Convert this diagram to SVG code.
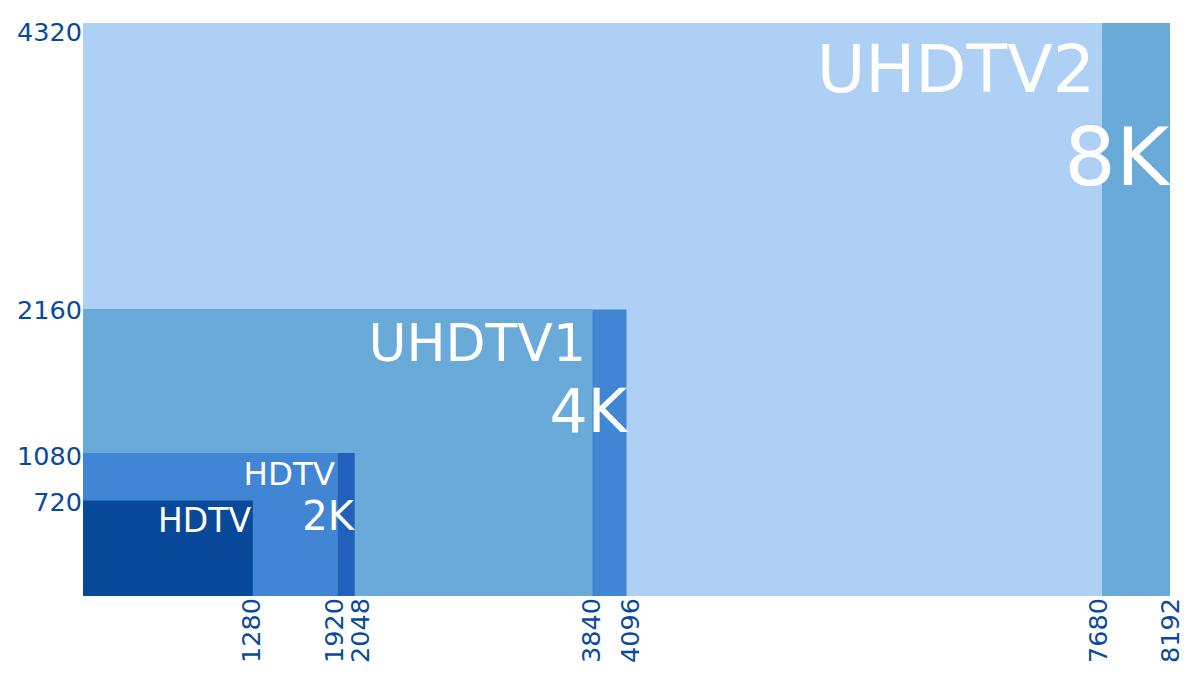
<svg xmlns="http://www.w3.org/2000/svg" width="1200" height="685" viewBox="0 0 1200 685">
<style>
.lbl{font-family:"DejaVu Sans","Liberation Sans",sans-serif;fill:#ffffff;text-anchor:end}
.ax{font-family:"DejaVu Sans","Liberation Sans",sans-serif;fill:#0a4a9c;font-size:25.5px;text-anchor:end}
</style>
<rect width="1200" height="685" fill="#ffffff"/>
<g id="res-8k">
<rect x="83" y="23" width="1087" height="573" fill="#6aaad9"/>
<rect x="83" y="23" width="1019" height="573" fill="#aed0f5"/>
<text class="lbl" x="1095" y="92" font-size="66.5">UHDTV2</text>
<text class="lbl" x="1169" y="185" font-size="81">8K</text>
</g>
<g id="res-4k">
<rect x="83" y="309.5" width="543.5" height="286.5" fill="#4186d4"/>
<rect x="83" y="309.5" width="509.5" height="286.5" fill="#6aaad9"/>
<text class="lbl" x="586" y="361" font-size="52">UHDTV1</text>
<text class="lbl" x="627" y="432" font-size="60">4K</text>
</g>
<g id="res-2k">
<rect x="83" y="453" width="271.7" height="143" fill="#2160bd"/>
<rect x="83" y="453" width="254.8" height="143" fill="#4186d4"/>
<text class="lbl" x="335" y="485" font-size="32.5">HDTV</text>
<text class="lbl" x="354" y="530" font-size="40">2K</text>
</g>
<g id="res-720">
<rect x="83" y="500.5" width="169.8" height="95.5" fill="#08499a"/>
<text class="lbl" x="251" y="532" font-size="33">HDTV</text>
</g>
<g id="axis-y">
<text class="ax" x="82" y="40.5" font-size="26">4320</text>
<text class="ax" x="82" y="318.5" font-size="26">2160</text>
<text class="ax" x="82" y="465" font-size="26">1080</text>
<text class="ax" x="82" y="510.5" font-size="26">720</text>
</g>
<g id="axis-x">
<text class="ax" transform="translate(260,598) rotate(-90)">1280</text>
<text class="ax" transform="translate(343,598) rotate(-90)">1920</text>
<text class="ax" transform="translate(369,598) rotate(-90)">2048</text>
<text class="ax" transform="translate(600,598) rotate(-90)">3840</text>
<text class="ax" transform="translate(639,598) rotate(-90)">4096</text>
<text class="ax" transform="translate(1107,598) rotate(-90)">7680</text>
<text class="ax" transform="translate(1179,598) rotate(-90)">8192</text>
</g>
</svg>
